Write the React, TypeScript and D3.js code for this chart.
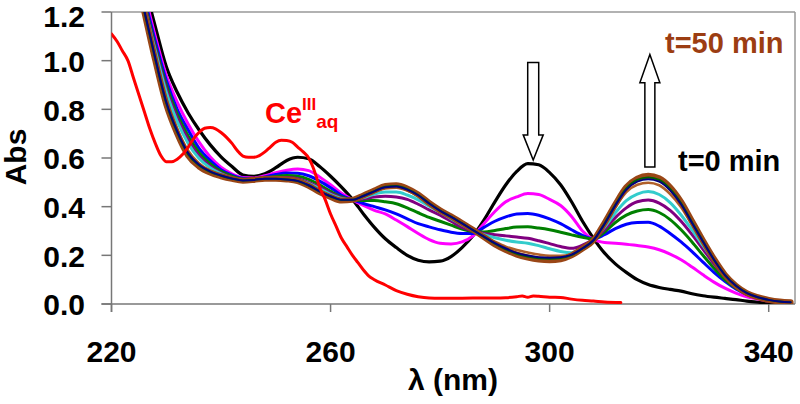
import React from "react";
import * as d3 from "d3";

const W = 800;
const H = 404;
const X0 = 111.5, X1 = 795, Y0 = 304, Y1 = 12;

const xTicks = [220, 260, 300, 340];
const yTicks = [0, 0.2, 0.4, 0.6, 0.8, 1.0, 1.2];

const wavelengths = [226, 228, 230, 232, 234, 236, 238, 240, 242, 244, 246, 248, 250, 252, 254, 256, 258, 260, 262, 264,
  266, 268, 270, 272, 274, 276, 278, 280, 282, 284, 286, 288, 290, 292, 294, 296, 298, 300, 302, 304,
  306, 308, 310, 312, 314, 316, 318, 320, 322, 324, 326, 328, 330, 332, 334, 336, 338, 340, 342, 344];

const black = [1.31, 1.14, 0.976, 0.87, 0.785, 0.715, 0.655, 0.605, 0.565, 0.53,
  0.525, 0.535, 0.56, 0.59, 0.603, 0.597, 0.565, 0.525, 0.48, 0.43,
  0.37, 0.315, 0.268, 0.232, 0.2, 0.18, 0.173, 0.176, 0.195, 0.232,
  0.28, 0.345, 0.42, 0.49, 0.545, 0.577, 0.572, 0.54, 0.49, 0.42,
  0.34, 0.27, 0.21, 0.165, 0.13, 0.1, 0.08, 0.068, 0.06, 0.053,
  0.042, 0.034, 0.028, 0.023, 0.018, 0.012, 0.008, 0.005, 0.004, 0.003];

const magenta = [1.28, 1.1, 0.94, 0.83, 0.74, 0.665, 0.605, 0.562, 0.535, 0.52,
  0.518, 0.527, 0.54, 0.55, 0.555, 0.548, 0.522, 0.49, 0.455, 0.428,
  0.405, 0.385, 0.37, 0.345, 0.318, 0.29, 0.265, 0.25, 0.247, 0.255,
  0.28, 0.33, 0.38, 0.42, 0.44, 0.454, 0.45, 0.43, 0.405, 0.36,
  0.3, 0.265, 0.253, 0.25, 0.246, 0.24, 0.234, 0.223, 0.205, 0.182,
  0.152, 0.12, 0.09, 0.065, 0.045, 0.03, 0.02, 0.012, 0.008, 0.005];

const blue = [1.26, 1.08, 0.92, 0.8, 0.715, 0.64, 0.59, 0.552, 0.53, 0.517,
  0.515, 0.522, 0.532, 0.538, 0.537, 0.527, 0.505, 0.478, 0.447, 0.428,
  0.413, 0.4, 0.387, 0.37, 0.35, 0.33, 0.317, 0.305, 0.295, 0.29,
  0.29, 0.315, 0.34, 0.358, 0.37, 0.372, 0.365, 0.35, 0.33, 0.305,
  0.282, 0.267, 0.285, 0.31, 0.328, 0.335, 0.336, 0.32, 0.29, 0.255,
  0.215, 0.172, 0.13, 0.093, 0.062, 0.04, 0.024, 0.014, 0.008, 0.005];

const green = [1.24, 1.06, 0.9, 0.78, 0.69, 0.622, 0.577, 0.545, 0.525, 0.513,
  0.512, 0.517, 0.524, 0.528, 0.525, 0.512, 0.49, 0.463, 0.44, 0.428,
  0.425, 0.425, 0.42, 0.412, 0.395, 0.375, 0.356, 0.34, 0.324, 0.308,
  0.298, 0.296, 0.302, 0.31, 0.316, 0.317, 0.312, 0.305, 0.295, 0.284,
  0.274, 0.267, 0.295, 0.335, 0.365, 0.382, 0.388, 0.376, 0.347, 0.305,
  0.255, 0.2, 0.147, 0.1, 0.066, 0.041, 0.025, 0.015, 0.009, 0.006];

const purple = [1.23, 1.05, 0.885, 0.765, 0.675, 0.608, 0.566, 0.538, 0.52, 0.51,
  0.51, 0.515, 0.519, 0.52, 0.515, 0.5, 0.48, 0.456, 0.437, 0.428,
  0.432, 0.44, 0.443, 0.44, 0.43, 0.41, 0.387, 0.365, 0.34, 0.315,
  0.3, 0.29, 0.285, 0.28, 0.275, 0.27, 0.26, 0.248, 0.236, 0.229,
  0.242, 0.266, 0.305, 0.355, 0.395, 0.42, 0.427, 0.415, 0.385, 0.34,
  0.285, 0.225, 0.165, 0.112, 0.072, 0.044, 0.026, 0.015, 0.009, 0.006];

const cyan = [1.22, 1.04, 0.87, 0.75, 0.66, 0.598, 0.56, 0.535, 0.518, 0.509,
  0.509, 0.514, 0.517, 0.516, 0.51, 0.496, 0.474, 0.451, 0.434, 0.428,
  0.437, 0.452, 0.46, 0.46, 0.448, 0.428, 0.402, 0.377, 0.351, 0.325,
  0.302, 0.285, 0.272, 0.262, 0.255, 0.25, 0.24, 0.227, 0.216, 0.211,
  0.23, 0.265, 0.315, 0.375, 0.425, 0.452, 0.462, 0.45, 0.417, 0.366,
  0.305, 0.24, 0.177, 0.118, 0.075, 0.046, 0.028, 0.016, 0.009, 0.006];

const sienna = [1.21, 1.02, 0.845, 0.72, 0.63, 0.578, 0.549, 0.53, 0.516, 0.508,
  0.509, 0.514, 0.515, 0.513, 0.507, 0.49, 0.466, 0.445, 0.43, 0.428,
  0.442, 0.46, 0.475, 0.478, 0.466, 0.443, 0.41, 0.382, 0.356, 0.329,
  0.303, 0.279, 0.256, 0.236, 0.222, 0.212, 0.203, 0.198, 0.198, 0.205,
  0.23, 0.263, 0.325, 0.398, 0.46, 0.49, 0.498, 0.488, 0.452, 0.398,
  0.325, 0.252, 0.18, 0.118, 0.075, 0.045, 0.028, 0.017, 0.01, 0.007];

const brown = [1.2, 1.0, 0.82, 0.7, 0.61, 0.565, 0.54, 0.525, 0.514, 0.507,
  0.51, 0.515, 0.515, 0.512, 0.505, 0.486, 0.46, 0.44, 0.425, 0.428,
  0.446, 0.466, 0.485, 0.488, 0.475, 0.45, 0.415, 0.385, 0.36, 0.333,
  0.305, 0.275, 0.245, 0.222, 0.203, 0.191, 0.183, 0.18, 0.184, 0.2,
  0.228, 0.262, 0.332, 0.41, 0.48, 0.515, 0.527, 0.517, 0.48, 0.42,
  0.34, 0.26, 0.185, 0.12, 0.075, 0.045, 0.028, 0.017, 0.01, 0.007];

const green2 = [1.2, 1.005, 0.825, 0.705, 0.615, 0.569, 0.543, 0.527, 0.515, 0.508,
  0.51, 0.515, 0.515, 0.512, 0.505, 0.487, 0.462, 0.442, 0.427, 0.428,
  0.445, 0.464, 0.482, 0.485, 0.472, 0.448, 0.414, 0.384, 0.359, 0.332,
  0.304, 0.276, 0.248, 0.225, 0.206, 0.195, 0.188, 0.186, 0.189, 0.201,
  0.228, 0.262, 0.33, 0.408, 0.475, 0.51, 0.52, 0.51, 0.473, 0.414,
  0.336, 0.258, 0.183, 0.12, 0.076, 0.046, 0.028, 0.017, 0.01, 0.007];

const navy = [1.205, 1.01, 0.83, 0.71, 0.62, 0.572, 0.545, 0.528, 0.516, 0.508,
  0.51, 0.515, 0.515, 0.512, 0.506, 0.488, 0.463, 0.443, 0.428, 0.428,
  0.444, 0.463, 0.48, 0.483, 0.47, 0.447, 0.413, 0.383, 0.358, 0.331,
  0.304, 0.277, 0.25, 0.228, 0.21, 0.199, 0.192, 0.19, 0.192, 0.203,
  0.229, 0.262, 0.328, 0.405, 0.47, 0.503, 0.513, 0.503, 0.467, 0.41,
  0.333, 0.256, 0.182, 0.119, 0.075, 0.045, 0.028, 0.017, 0.01, 0.007];

const ceWavelengths = [220, 221, 222, 223, 224, 225, 226, 227, 228, 229, 230, 231, 232, 233, 234, 235, 236, 237, 238, 239,
  240, 241, 242, 243, 244, 245, 246, 247, 248, 249, 250, 251, 252, 253, 254, 255, 256, 257, 258, 259,
  260, 261, 262, 263, 264, 265, 266, 267, 268, 270, 272, 274, 276, 278, 280, 284, 288, 290, 292, 294,
  295, 296, 297, 298, 300, 302, 304, 306, 308, 310, 313];
const ceValues = [1.11, 1.08, 1.04, 1.0, 0.93, 0.86, 0.79, 0.72, 0.66, 0.61, 0.585, 0.585, 0.595, 0.615, 0.645, 0.68, 0.705, 0.722, 0.725, 0.72,
  0.705, 0.685, 0.66, 0.63, 0.608, 0.603, 0.603, 0.61, 0.625, 0.645, 0.665, 0.673, 0.672, 0.665, 0.645, 0.625, 0.6, 0.55, 0.48, 0.43,
  0.37, 0.32, 0.27, 0.235, 0.2, 0.17, 0.14, 0.115, 0.1, 0.078, 0.055, 0.04, 0.03, 0.025, 0.024, 0.024, 0.025, 0.025, 0.026, 0.03,
  0.033, 0.028, 0.033, 0.032, 0.028, 0.027, 0.02, 0.015, 0.012, 0.008, 0.006];

const series = [
  { name: "t0", values: black, color: "#000000", width: 3.2 },
  { name: "t1", values: magenta, color: "#FF00FF", width: 3 },
  { name: "t2", values: blue, color: "#0000FF", width: 3 },
  { name: "t3", values: green, color: "#008000", width: 3 },
  { name: "t4", values: purple, color: "#800080", width: 3 },
  { name: "t5", values: cyan, color: "#33CCCC", width: 3 },
  { name: "t6", values: sienna, color: "#B0602A", width: 2.5 },
  { name: "t9", values: brown, color: "#9A4616", width: 6 },
  { name: "t7", values: green2, color: "#006400", width: 2 },
  { name: "t8", values: navy, color: "#000080", width: 2 },
];

export default function App() {
  const x = d3.scaleLinear().domain([220, 344.8]).range([X0, X1]);
  const y = d3.scaleLinear().domain([0, 1.2]).range([Y0, Y1]);
  const line = d3
    .line<[number, number]>()
    .x((d) => x(d[0]))
    .y((d) => y(d[1]))
    .curve(d3.curveMonotoneX);

  const font = "'Liberation Sans', Arial, sans-serif";
  const axisColor = "#777";

  const downX = x(297);
  const upX = x(318.3);

  return (
    <svg width={W} height={H} style={{ position: "absolute", left: 0, top: 0, background: "#fff" }} fontFamily={font}>
      <defs>
        <clipPath id="plot">
          <rect x={X0} y={Y1} width={X1 - X0} height={Y0 - Y1} />
        </clipPath>
      </defs>
      {/* frame */}
      <line x1={X0} x2={X1} y1={Y1} y2={Y1} stroke="#999" strokeWidth={1.5} />
      <line x1={X1} x2={X1} y1={Y1} y2={Y0} stroke="#999" strokeWidth={1.5} />
      {/* axes */}
      <line x1={X0} x2={X0} y1={Y1} y2={Y0 + 8} stroke={axisColor} strokeWidth={1.5} />
      <line x1={X0 - 10} x2={X1} y1={Y0} y2={Y0} stroke={axisColor} strokeWidth={1.5} />
      {yTicks.map((t) => (
        <g key={"y" + t}>
          <line x1={X0 - 10} x2={X0} y1={y(t)} y2={y(t)} stroke={axisColor} strokeWidth={1.5} />
          <text x={85} y={Math.max(y(t), 16)} dy="0.38em" textAnchor="end" fontSize={30} fontWeight="bold" fill="#000">
            {t.toFixed(1)}
          </text>
        </g>
      ))}
      {xTicks.map((t) => (
        <g key={"x" + t}>
          <line x1={x(t)} x2={x(t)} y1={Y0} y2={Y0 + 8} stroke={axisColor} strokeWidth={1.5} />
          <text x={x(t)} y={362} textAnchor="middle" fontSize={30} fontWeight="bold" fill="#000">
            {t}
          </text>
        </g>
      ))}
      <text x={453} y={390} textAnchor="middle" fontSize={30} fontWeight="bold">λ (nm)</text>
      <text transform="translate(26,157) rotate(-90)" textAnchor="middle" fontSize={30} fontWeight="bold">Abs</text>

      <g clipPath="url(#plot)" fill="none" strokeLinejoin="round" strokeLinecap="round">
        {series.map((s) => (
          <path
            key={s.name}
            d={line(wavelengths.map((w, i) => [w, s.values[i]] as [number, number])) || ""}
            stroke={s.color}
            strokeWidth={s.width}
          />
        ))}
        <path
          d={line(ceWavelengths.map((w, i) => [w, ceValues[i]] as [number, number])) || ""}
          stroke="#FF0000"
          strokeWidth={3}
        />
      </g>

      {/* arrows */}
      <path
        d={`M${downX - 5.5},${y(0.992)} L${downX + 5.5},${y(0.992)} L${downX + 5.5},${y(0.695)} L${downX + 10},${y(0.695)} L${downX},${y(0.592)} L${downX - 10},${y(0.695)} L${downX - 5.5},${y(0.695)} Z`}
        fill="#fff"
        stroke="#000"
        strokeWidth={1.5}
      />
      <path
        d={`M${upX - 5},${y(0.563)} L${upX + 5},${y(0.563)} L${upX + 5},${y(0.909)} L${upX + 10},${y(0.909)} L${upX},${y(1.025)} L${upX - 10},${y(0.909)} L${upX - 5},${y(0.909)} Z`}
        fill="#fff"
        stroke="#000"
        strokeWidth={1.5}
      />

      <text x={665} y={53} fontSize={29} fontWeight="bold" fill="#9C3D12">t=50 min</text>
      <text x={678} y={171} fontSize={29} fontWeight="bold" fill="#000">t=0 min</text>
      <text x={265} y={123} fontSize={29} fontWeight="bold" fill="#FF0000">
        Ce
        <tspan fontSize={17} dy={-13}>III</tspan>
        <tspan fontSize={19} dy={18}>aq</tspan>
      </text>
    </svg>
  );
}
